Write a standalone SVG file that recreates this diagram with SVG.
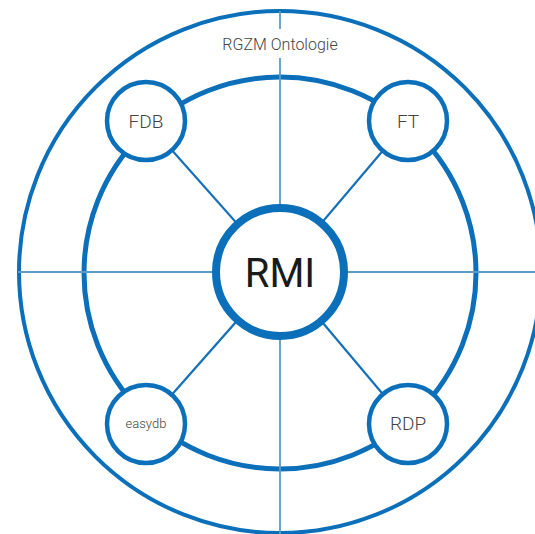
<svg xmlns="http://www.w3.org/2000/svg" width="535" height="534" viewBox="0 0 535 534">
  <style>
    .ring { fill: none; stroke: #0b6fba; }
    .axis { stroke: #5a9cc6; stroke-width: 1.8; fill: none; }
    .link { stroke: #1570b8; stroke-width: 2.2; fill: none; }
    .node { fill: #ffffff; stroke: #0b6fba; stroke-width: 4.5; }
    .lbl { font-family: Roboto, "Liberation Sans", sans-serif; font-weight: 300; fill: #444444; text-anchor: middle; }
  </style>
  <rect width="535" height="534" fill="#ffffff"/>
  <g id="rings">
    <circle class="ring" cx="280" cy="272" r="261" stroke-width="4"/>
    <circle class="ring" cx="280" cy="273" r="196" stroke-width="5"/>
  </g>
  <g id="connectors">
    <line class="axis" x1="280" y1="11" x2="280" y2="29"/>
    <line class="axis" x1="280" y1="58" x2="280" y2="534"/>
    <line class="axis" x1="18" y1="272" x2="535" y2="272"/>
    <line class="link" x1="146" y1="121" x2="280" y2="272"/>
    <line class="link" x1="408" y1="121" x2="280" y2="272"/>
    <line class="link" x1="146" y1="424" x2="280" y2="272"/>
    <line class="link" x1="408" y1="424" x2="280" y2="272"/>
  </g>
  <g id="label-ontologie">
    <text class="lbl" x="280" y="50" font-size="16" fill="#555555">RGZM Ontologie</text>
  </g>
  <g id="node-rmi">
    <circle cx="280" cy="272" r="64" fill="#ffffff" stroke="#0b6fba" stroke-width="8"/>
    <text x="280" y="287" font-family="Roboto, 'Liberation Sans', sans-serif" font-size="40" fill="#1a1a1a" text-anchor="middle">RMI</text>
  </g>
  <g id="node-fdb">
    <circle class="node" cx="146" cy="121" r="39"/>
    <text class="lbl" x="146" y="128" font-size="19">FDB</text>
  </g>
  <g id="node-ft">
    <circle class="node" cx="408" cy="121" r="39"/>
    <text class="lbl" x="408" y="128" font-size="19">FT</text>
  </g>
  <g id="node-easydb">
    <circle class="node" cx="146" cy="424" r="39"/>
    <text class="lbl" x="146" y="428" font-size="13">easydb</text>
  </g>
  <g id="node-rdp">
    <circle class="node" cx="408" cy="424" r="39"/>
    <text class="lbl" x="408" y="430" font-size="19">RDP</text>
  </g>
</svg>
